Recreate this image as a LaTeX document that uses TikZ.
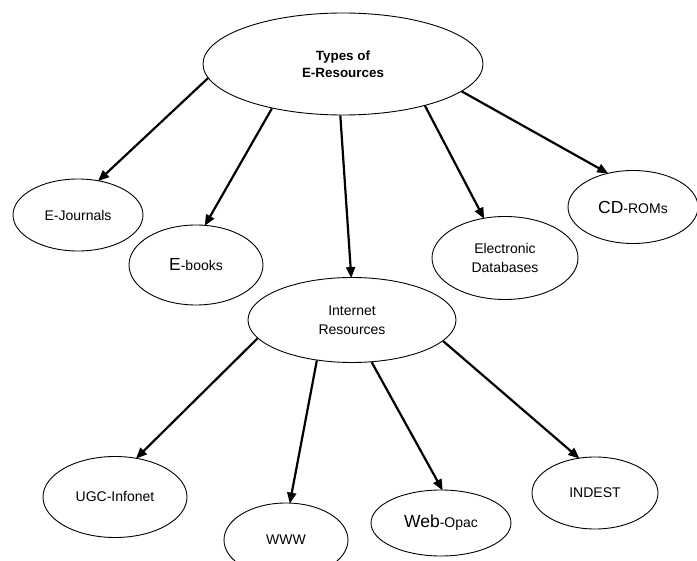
\documentclass[tikz,border=0pt]{standalone}
\usepackage{fontspec}
\setmainfont{Liberation Sans}
\usetikzlibrary{arrows.meta,shapes.geometric}
\newcommand{\ts}{\fontsize{14}{19}\selectfont}
\newcommand{\bg}{\fontsize{17.5}{19}\selectfont}
\begin{document}
\begin{tikzpicture}[x=1pt,y=-1pt,
  ell/.style={draw,ellipse,line width=0.9pt,inner sep=0pt,align=center,font=\ts},
  arr/.style={line width=2.2pt,-{Triangle[length=11pt,width=9pt]},shorten >=-1pt}]
\useasboundingbox (0,0) rectangle (697,561);
\node[ell,minimum width=280pt,minimum height=102pt,font=\bfseries\fontsize{13.4}{17}\selectfont] (top) at (343,64) {Types of\\E-Resources};
\node[ell,minimum width=130pt,minimum height=72pt] (ej) at (78,215) {E-Journals};
\node[ell,minimum width=134pt,minimum height=80pt] (eb) at (196,265) {{\bg E}-books};
\node[ell,minimum width=208pt,minimum height=85pt] (ir) at (352,320) {Internet\\Resources};
\node[ell,minimum width=146pt,minimum height=83pt] (ed) at (505,258) {Electronic\\Databases};
\node[ell,minimum width=130pt,minimum height=73pt] (cd) at (633,207) {{\bg CD}-ROMs};
\node[ell,minimum width=144pt,minimum height=81pt] (ugc) at (115,497) {UGC-Infonet};
\node[ell,minimum width=124pt,minimum height=74pt] (www) at (286,540) {WWW};
\node[ell,minimum width=140pt,minimum height=66pt] (wo) at (441,523) {{\bg Web}-Opac};
\node[ell,minimum width=126pt,minimum height=72pt] (ind) at (595,493) {INDEST};
\draw[arr] (top.186) -- (ej.59);
\draw[arr] (top.212) -- (eb.77);
\draw[arr] (top.267) -- (ir.91);
\draw[arr] (top.333) -- (ed.118);
\draw[arr] (top.347) -- (cd.127);
\draw[arr] (ir.191) -- (ugc.61);
\draw[arr] (ir.229) -- (www.84);
\draw[arr] (ir.295) -- (wo.88);
\draw[arr] (ir.347) -- (ind.115);
\end{tikzpicture}
\end{document}
